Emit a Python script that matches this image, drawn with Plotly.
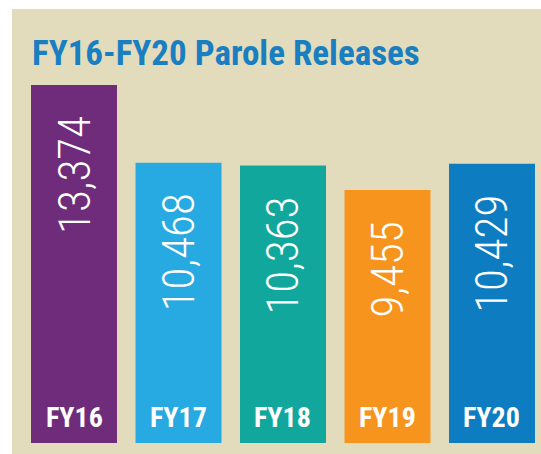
import plotly.graph_objects as go

categories = ["FY16", "FY17", "FY18", "FY19", "FY20"]
values = [13374, 10468, 10363, 9455, 10429]
value_labels = ["13,374", "10,468", "10,363", "9,455", "10,429"]
colors = ["#6f2c7a", "#27a9e1", "#12a79d", "#f7941d", "#0e7cc1"]
title_text = "FY16-FY20 Parole Releases"

BEIGE = "#e2dcbd"
NARROW = "Liberation Sans Narrow, Roboto Condensed, Roboto, sans-serif"

W, H = 541, 454
ml, mr, mt, mb = 22, 0, 60, 11
pw = W - ml - mr
ph = H - mt - mb

fig = go.Figure()
fig.add_trace(go.Bar(
    x=list(range(len(categories))),
    y=values,
    width=0.823,
    marker=dict(color=colors, line=dict(width=0)),
    hoverinfo="skip",
))

for i, (v, lab) in enumerate(zip(values, value_labels)):
    fig.add_annotation(
        x=i, y=v, xref="x", yref="y",
        text=lab, textangle=-90, showarrow=False,
        xanchor="center", yanchor="top", yshift=-29,
        font=dict(family=NARROW, size=45, color="white", weight=300),
    )
for i, c in enumerate(categories):
    fig.add_annotation(
        x=i, y=0, xref="x", yref="y",
        text="<b>" + c + "</b>", showarrow=False,
        xanchor="center", yanchor="bottom", yshift=7,
        font=dict(family=NARROW, size=28, color="white"),
    )

# white frame at left/top edge of the beige panel
fig.add_shape(type="rect", xref="paper", yref="paper",
              x0=-ml / pw, x1=(12 - ml) / pw, y0=-mb / ph, y1=(H - mb) / ph,
              fillcolor="white", line=dict(width=0), layer="above")
fig.add_shape(type="rect", xref="paper", yref="paper",
              x0=-ml / pw, x1=1 + mr / pw, y0=(H - mb - 9) / ph, y1=(H - mb) / ph,
              fillcolor="white", line=dict(width=0), layer="above")

fig.update_layout(
    width=W, height=H,
    margin=dict(l=ml, r=mr, t=mt, b=mb, pad=0),
    paper_bgcolor=BEIGE, plot_bgcolor=BEIGE,
    showlegend=False,
    hovermode=False,
    title=dict(
        text="<b>" + title_text + "</b>",
        xref="container", yref="container",
        x=32 / W, xanchor="left",
        y=1 - 65 / H, yanchor="bottom",
        font=dict(family=NARROW, size=35, color="#1a7fc1"),
    ),
    xaxis=dict(visible=False, range=[-0.4976, 4.469], fixedrange=True),
    yaxis=dict(visible=False, range=[0, ph / (358 / 13374)], fixedrange=True),
)

fig.write_html(
    "out.html",
    config={"displayModeBar": False, "staticPlot": True},
    post_script=(
        "document.documentElement.style.overflow='hidden';"
        "document.body.style.margin='0';"
        "document.body.style.overflow='hidden';"
    ),
)
